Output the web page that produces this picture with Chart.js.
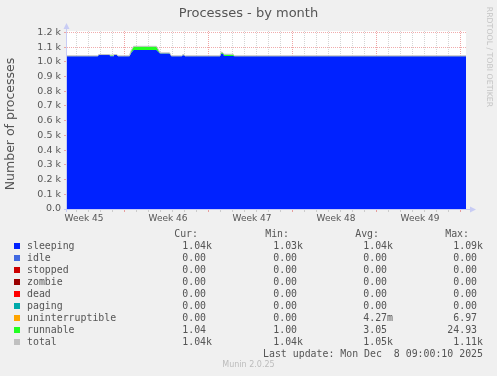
<!DOCTYPE html>
<html>
<head>
<meta charset="utf-8">
<script src="https://cdn.jsdelivr.net/npm/chart.js@4"></script>
<style>
body { margin: 0; background: #f0f0f0; }
#wrap { position: relative; width: 497px; height: 376px; overflow: hidden; font-family: "DejaVu Sans"; color: #555; }
canvas { position: absolute; left: 0; top: 0; }
.t { position: absolute; white-space: pre; line-height: 12px; height: 12px; }
.mono { font-family: "DejaVu Sans Mono"; font-size: 9.9px; }
.sw { position: absolute; width: 6px; height: 6px; }
</style>
</head>
<body>
<div id="wrap">
  <canvas id="c" width="497" height="376"></canvas>
  <div class="t" style="left:0;width:497px;top:7px;text-align:center;font-size:13px;">Processes - by month</div>
  <div class="t" style="left:-60px;top:118px;width:140px;text-align:center;font-size:12.5px;transform:rotate(-90deg);">Number of processes</div>
  <div class="t" style="left:433px;top:51px;width:112px;text-align:center;font-size:7.8px;color:#c4c4c4;transform:rotate(90deg);">RRDTOOL / TOBI OETIKER</div>
  <div id="legend"></div>
</div>
<script>
// time axis in days from left edge of graph
const days     = [0, 2.55, 2.65, 3.55, 3.6, 3.85, 3.9, 4.15, 4.25, 5.2, 5.35, 5.55, 7.45, 7.6, 7.75, 8.55, 8.7, 9.55, 9.65, 9.75, 9.85, 12.75, 12.85, 13.0, 13.1, 13.85, 13.95, 33.25];
const sleeping = [1038, 1038, 1046, 1046, 1038, 1038, 1046, 1046, 1038, 1038, 1060, 1080, 1080, 1068, 1057, 1057, 1038, 1038, 1045, 1045, 1038, 1038, 1055, 1052, 1040, 1040, 1038, 1038];
const runnable = [2, 2, 2, 2, 7, 7, 2, 2, 2, 2, 15, 24, 24, 15, 3, 3, 2, 2, 2, 2, 2, 2, 10, 8, 10, 10, 2, 2];
const total    = [1041, 1041, 1049, 1049, 1046, 1046, 1049, 1049, 1041, 1041, 1076, 1105, 1105, 1084, 1061, 1061, 1041, 1041, 1048, 1048, 1041, 1041, 1066, 1061, 1051, 1051, 1041, 1041];

const weekLabels    = ['Week 45', 'Week 46', 'Week 47', 'Week 48', 'Week 49'];
const weekLabelDays = [1.42, 8.42, 15.42, 22.42, 29.42];
const weekBounds    = [4.83, 11.83, 18.83, 25.83, 32.83];
const yTicks = [0, 100, 200, 300, 400, 500, 600, 700, 800, 900, 1000, 1100, 1200];

// legend table
const names  = ['sleeping', 'idle', 'stopped', 'zombie', 'dead', 'paging', 'uninterruptible', 'runnable', 'total'];
const colors = ['#0022ff', '#4169e1', '#cc0000', '#990000', '#ff0000', '#00aaaa', '#ffa500', '#22ff22', '#c0c0c0'];
const curVals = ['1.04k', '0.00 ', '0.00 ', '0.00 ', '0.00 ', '0.00 ', '0.00 ', '1.04 ', '1.04k'];
const minVals = ['1.03k', '0.00 ', '0.00 ', '0.00 ', '0.00 ', '0.00 ', '0.00 ', '1.00 ', '1.04k'];
const avgVals = ['1.04k', '0.00 ', '0.00 ', '0.00 ', '0.00 ', '0.00 ', '4.27m', '3.05 ', '1.05k'];
const maxVals = ['1.09k', '0.00 ', '0.00 ', '0.00 ', '0.00 ', '0.00 ', '6.97 ', '24.93 ', '1.11k'];

const legend = document.getElementById('legend');
function txt(s, left, top, align, cls, extra) {
  const d = document.createElement('div');
  d.className = 't ' + (cls || '');
  d.textContent = s;
  if (align === 'right') { d.style.right = (497 - left) + 'px'; d.style.textAlign = 'right'; }
  else d.style.left = left + 'px';
  d.style.top = top + 'px';
  if (extra) Object.assign(d.style, extra);
  legend.appendChild(d);
}
txt('Cur:', 198, 228, 'right', 'mono');
txt('Min:', 289, 228, 'right', 'mono');
txt('Avg:', 379, 228, 'right', 'mono');
txt('Max:', 469, 228, 'right', 'mono');
names.forEach((n, i) => {
  const y = 240 + i * 12;
  const sw = document.createElement('div');
  sw.className = 'sw';
  sw.style.left = '14px';
  sw.style.top = (y + 3) + 'px';
  sw.style.background = colors[i];
  legend.appendChild(sw);
  txt(n, 27, y, 'left', 'mono');
  txt(curVals[i], 212, y, 'right', 'mono');
  txt(minVals[i], 303, y, 'right', 'mono');
  txt(avgVals[i], 393, y, 'right', 'mono');
  txt(maxVals[i], 483, y, 'right', 'mono');
});
txt('Last update: Mon Dec  8 09:00:10 2025', 483, 348, 'right', 'mono');
txt('Munin 2.0.25', 0, 359, 'left', '', { width: '497px', textAlign: 'center', fontSize: '8px', color: '#bcbcbc' });

const near = (v, arr) => arr.some(a => Math.abs(a - v) < 0.01);

const frame = {
  id: 'frame',
  beforeDraw(chart) {
    const { ctx, chartArea: a } = chart;
    ctx.save();
    ctx.fillStyle = '#f0f0f0';
    ctx.fillRect(0, 0, chart.width, chart.height);
    ctx.fillStyle = '#ffffff';
    ctx.fillRect(a.left, a.top, a.right - a.left, a.bottom - a.top);
    ctx.restore();
  },
  afterDraw(chart) {
    const { ctx, chartArea: a } = chart;
    ctx.save();
    ctx.strokeStyle = '#c8ccf4';
    ctx.fillStyle = '#c8ccf4';
    ctx.lineWidth = 1;
    ctx.beginPath();
    ctx.moveTo(a.left - 0.5, a.bottom + 3);
    ctx.lineTo(a.left - 0.5, a.top - 4);
    ctx.moveTo(a.left - 3, a.bottom + 0.5);
    ctx.lineTo(a.right + 6, a.bottom + 0.5);
    ctx.stroke();
    ctx.beginPath();
    ctx.moveTo(a.left - 3.5, a.top - 2);
    ctx.lineTo(a.left + 2.5, a.top - 2);
    ctx.lineTo(a.left - 0.5, a.top - 8);
    ctx.fill();
    ctx.beginPath();
    ctx.moveTo(a.right + 4, a.bottom - 2.5);
    ctx.lineTo(a.right + 4, a.bottom + 3.5);
    ctx.lineTo(a.right + 10, a.bottom + 0.5);
    ctx.fill();
    ctx.restore();
  }
};

const toPts = arr => arr.map((v, i) => ({ x: days[i], y: v }));

new Chart(document.getElementById('c'), {
  type: 'line',
  data: {
    datasets: [
      { label: 'total', data: toPts(total), stack: 'b', borderColor: '#c0c0c0', borderWidth: 1, fill: false },
      { label: 'sleeping', data: toPts(sleeping), stack: 'a', borderWidth: 0, borderColor: '#0022ff', backgroundColor: '#0022ff', fill: 'origin' },
      { label: 'runnable', data: toPts(runnable), stack: 'a', borderWidth: 0, borderColor: '#22ff22', backgroundColor: '#22ff22', fill: '-1' }
    ]
  },
  options: {
    responsive: false,
    animation: false,
    events: [],
    layout: { padding: { left: 0, right: 31, top: 31, bottom: 147 } },
    elements: { point: { radius: 0 }, line: { tension: 0 } },
    plugins: { legend: { display: false }, tooltip: { enabled: false } },
    scales: {
      x: {
        type: 'linear',
        min: 0,
        max: 33.25,
        z: 1,
        afterBuildTicks: scale => {
          const t = [];
          for (let d = 0.83; d < 33.25; d += 1) t.push({ value: Math.round(d * 100) / 100 });
          weekLabelDays.forEach(v => t.push({ value: v }));
          t.sort((p, q) => p.value - q.value);
          scale.ticks = t;
        },
        afterFit: scale => { scale.height = 20; },
        border: { display: false, dash: [1, 1] },
        grid: {
          tickLength: 3,
          color: c => {
            const v = c.tick ? c.tick.value : 0;
            if (near(v, weekLabelDays)) return 'rgba(0,0,0,0)';
            return near(v, weekBounds) ? 'rgba(225,90,90,0.55)' : 'rgba(150,150,150,0.4)';
          }
        },
        ticks: {
          autoSkip: false,
          maxRotation: 0,
          padding: 1,
          color: '#555',
          font: { family: 'DejaVu Sans', size: 9 },
          callback: v => {
            const i = weekLabelDays.findIndex(w => Math.abs(w - v) < 0.01);
            return i >= 0 ? weekLabels[i] : '';
          }
        }
      },
      y: {
        stacked: true,
        min: 0,
        max: 1209,
        z: 1,
        afterBuildTicks: scale => { scale.ticks = yTicks.map(v => ({ value: v })); },
        afterFit: scale => { scale.width = 67; },
        border: { display: false, dash: [1, 1] },
        grid: { tickLength: 3, color: 'rgba(225,90,90,0.5)' },
        ticks: {
          padding: 3,
          color: '#555',
          font: { family: 'DejaVu Sans', size: 9.5 },
          callback: v => v === 0 ? '0.0' : (v / 1000).toFixed(1) + ' k'
        }
      }
    }
  },
  plugins: [frame]
});
</script>
</body>
</html>
